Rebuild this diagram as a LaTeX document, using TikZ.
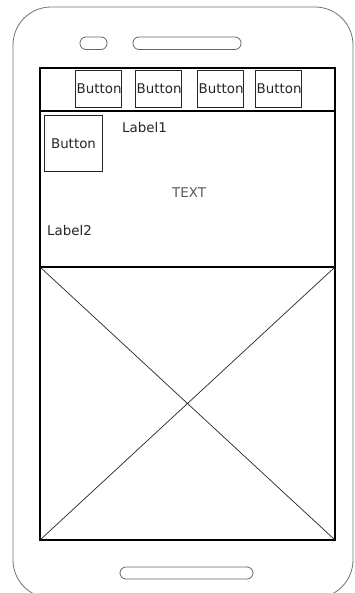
\documentclass[tikz,border=0pt]{standalone}
\usepackage{fontspec}
\setmainfont{DejaVu Sans}
\begin{document}
\begin{tikzpicture}[x=1pt,y=-1pt,
  phone/.style={draw=black!55,line width=0.8pt},
  pill/.style={draw=black!60,line width=0.8pt,rounded corners=6pt},
  scr/.style={draw=black,line width=1.2pt},
  btn/.style={draw=black!85,line width=1pt,inner sep=0pt},
  txt/.style={font=\fontsize{13.4}{15}\selectfont,text=black!85,inner sep=0pt},
]
\useasboundingbox (0,0) rectangle (354,593);
\fill[white] (0,0) rectangle (354,593);
% phone body
\draw[phone,rounded corners=38pt] (13,7) rectangle (353,598);
\draw[pill] (80,37) rectangle (107,49.5);
\draw[pill] (133,37) rectangle (241,49.5);
\draw[pill] (120,567) rectangle (253,579);
% screen
\draw[scr] (40,68) rectangle (335,540);
\draw[scr] (40,111) -- (335,111);
\draw[scr] (40,267) -- (335,267);
% image placeholder
\coordinate (i1) at (40,267);
\coordinate (i2) at (335,267);
\coordinate (i3) at (335,540);
\coordinate (i4) at (40,540);
\draw[black!85,line width=0.7pt] (i1) -- (i3) (i2) -- (i4);
% toolbar buttons
\foreach \n/\x in {b1/75,b2/135,b3/197,b4/255}{
  \node[btn,minimum width=45.5pt,minimum height=37pt,anchor=north west] (\n) at (\x,70) {};
  \node[txt,anchor=west] (\n t) at ([xshift=1.5pt]\n.west) {Button};
}
% content
\node[btn,minimum width=58pt,minimum height=56pt,anchor=north west] (bb) at (44,115) {};
\node[txt] (bbt) at (bb.center) {Button};
\node[txt,anchor=west] (l1) at (122,128) {Label1};
\node[txt,anchor=west,text=black!65] (tx) at (172,193) {TEXT};
\node[txt,anchor=west] (l2) at (47,231) {Label2};
\end{tikzpicture}
\end{document}
